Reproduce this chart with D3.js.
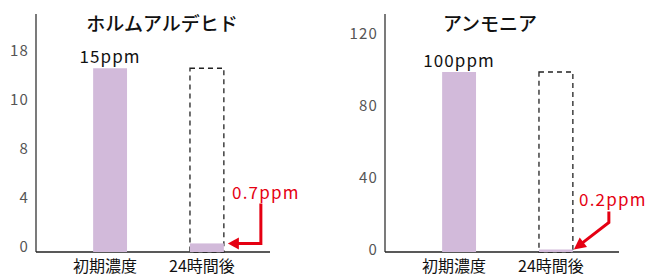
<!DOCTYPE html>
<html><head><meta charset="utf-8">
<script src="https://cdn.jsdelivr.net/npm/d3@7"></script>
<style>
html,body{margin:0;padding:0;background:#fff;}
svg{display:block;font-family:"Noto Sans CJK JP","Noto Sans",sans-serif;}
</style></head>
<body>
<svg id="chart" width="648" height="277"></svg>
<script>
const categories = ["初期濃度", "24時間後"];
const titles = ["ホルムアルデヒド", "アンモニア"];
const formValues = [15, 0.7];
const formLabels = ["15ppm", "0.7ppm"];
const formTicks = [0, 4, 8, 12, 16];
const formTickLabels = ["0", "4", "8", "10", "18"];
const ammValues = [100, 0.2];
const ammLabels = ["100ppm", "0.2ppm"];
const ammTicks = [0, 40, 80, 120];
const ammTickLabels = ["0", "40", "80", "120"];

const svg = d3.select("#chart");
const BAR = "#d2bada", RED = "#e50012";

const panels = [
  {off: 0, values: formValues, labels: formLabels, ticks: formTicks, tickLabels: formTickLabels,
   domain: [0, 16], top: 56, tickShift: -5, title: titles[0], titleX: 162, arrow: "elbow"},
  {off: 349, values: ammValues, labels: ammLabels, ticks: ammTicks, tickLabels: ammTickLabels,
   domain: [0, 120], top: 36, tickShift: -2, title: titles[1], titleX: 490, arrow: "diag"}
];

panels.forEach(p => {
  const g = svg.append("g");
  const x = d3.scaleBand().domain(categories).range([36 + p.off, 281 + p.off])
    .paddingInner(0.65).paddingOuter(0.59);
  const y = d3.scaleLinear().domain(p.domain).range([252, p.top]);
  const base = y(0);

  // y axis
  const ax = g.append("g").attr("transform", `translate(${36 + p.off},0)`)
    .call(d3.axisLeft(y).tickValues(p.ticks).tickSize(0).tickPadding(7)
      .tickFormat((d, i) => p.tickLabels[i]));
  ax.select(".domain").remove();
  ax.selectAll("text").attr("font-size", 15).attr("fill", "#555")
    .attr("font-family", "'Noto Sans CJK JP', sans-serif")
    .attr("letter-spacing", 1.2)
    .attr("transform", `translate(0,${p.tickShift})`);

  // axis lines
  g.append("line").attr("x1", 36 + p.off).attr("x2", 36 + p.off).attr("y1", 14).attr("y2", base)
    .attr("stroke", "#222").attr("stroke-width", 1.2);
  g.append("line").attr("x1", 36 + p.off).attr("x2", 270 + p.off).attr("y1", base).attr("y2", base)
    .attr("stroke", "#222").attr("stroke-width", 1.5);

  // dashed outline of initial value on second category
  g.append("rect").attr("x", x(categories[1])).attr("y", y(p.values[0]))
    .attr("width", x.bandwidth()).attr("height", base - y(p.values[0]))
    .attr("fill", "none").attr("stroke", "#222").attr("stroke-width", 1.3)
    .attr("stroke-dasharray", "5,4");

  // bars
  g.selectAll("rect.bar").data(p.values).join("rect").attr("class", "bar")
    .attr("x", (d, i) => x(categories[i]))
    .attr("width", x.bandwidth())
    .attr("y", d => Math.min(y(d), base - 2.5))
    .attr("height", d => Math.max(base - y(d), 2.5))
    .attr("fill", BAR);

  // title
  g.append("text").attr("x", p.titleX).attr("y", 22).attr("text-anchor", "middle")
    .attr("dominant-baseline", "central").attr("font-size", 19).attr("font-weight", 500)
    .attr("fill", "#111").text(p.title);

  // first value label
  g.append("text").attr("x", x(categories[0]) + x.bandwidth() / 2).attr("y", y(p.values[0]) - 13)
    .attr("text-anchor", "middle").attr("dominant-baseline", "central")
    .attr("font-size", 17).attr("letter-spacing", 1.1).attr("fill", "#111").text(p.labels[0]);

  // second value label (red) + arrow
  const xr = x(categories[1]) + x.bandwidth();
  const yt = Math.min(y(p.values[1]), base - 2.5);
  if (p.arrow === "elbow") {
    g.append("text").attr("x", xr + 42).attr("y", yt - 52).attr("text-anchor", "middle")
      .attr("dominant-baseline", "central").attr("font-size", 17).attr("letter-spacing", 1.2)
      .attr("fill", RED).text(p.labels[1]);
    g.append("path").attr("d", `M${xr + 37},${yt - 40}V${yt}H${xr + 13}`)
      .attr("fill", "none").attr("stroke", RED).attr("stroke-width", 3);
    g.append("path").attr("d", `M${xr + 4},${yt}L${xr + 15},${yt - 6}L${xr + 15},${yt + 6}Z`).attr("fill", RED);
  } else {
    g.append("text").attr("x", xr + 40).attr("y", yt - 51).attr("text-anchor", "middle")
      .attr("dominant-baseline", "central").attr("font-size", 17).attr("letter-spacing", 1.2)
      .attr("fill", RED).text(p.labels[1]);
    const sx = xr + 36, sy = yt - 38, ky = yt - 27, tx = xr + 1, ty = yt;
    const ang = Math.atan2(ty - ky, tx - sx);
    const hl = 12, hw = 6;
    const bx = tx - hl * Math.cos(ang), by = ty - hl * Math.sin(ang);
    g.append("path").attr("d", `M${sx},${sy}V${ky}L${bx + 2 * Math.cos(ang)},${by + 2 * Math.sin(ang)}`)
      .attr("fill", "none").attr("stroke", RED).attr("stroke-width", 3).attr("stroke-linejoin", "miter");
    const px = -Math.sin(ang) * hw, py = Math.cos(ang) * hw;
    g.append("path").attr("d", `M${tx},${ty}L${bx + px},${by + py}L${bx - px},${by - py}Z`).attr("fill", RED);
  }

  // category labels
  g.selectAll("text.cat").data(categories).join("text").attr("class", "cat")
    .attr("x", d => x(d) + x.bandwidth() / 2 - 5).attr("y", 265)
    .attr("text-anchor", "middle").attr("dominant-baseline", "central")
    .attr("font-size", 16).attr("fill", "#111").text(d => d);
});
</script>
</body></html>
